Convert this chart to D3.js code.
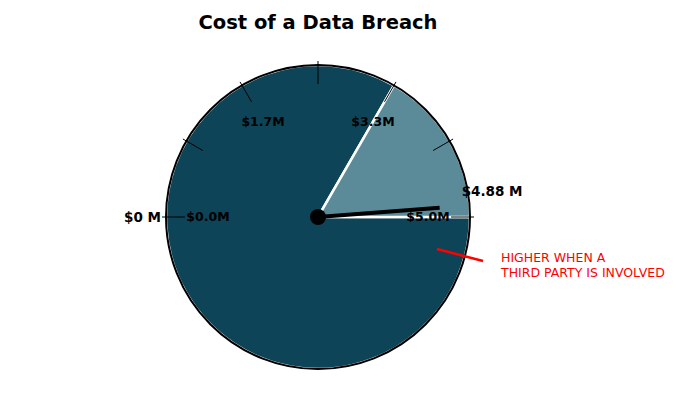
<!DOCTYPE html>
<html>
<head>
<meta charset="utf-8">
<script src="https://d3js.org/d3.v7.min.js"></script>
<style>
  body { margin: 0; background: #fff; }
  text { font-family: "DejaVu Sans", sans-serif; }
</style>
</head>
<body>
<script>
// Gauge data
const title = "Cost of a Data Breach";
const gaugeMin = 0;
const gaugeMax = 5;
const tickValues = [0, 0.8333, 1.6667, 2.5, 3.3333, 4.1667, 5];
const labelValues = [0, 1.6667, 3.3333, 5];
const sliceNames = ["base", "third party"];
const sliceValues = [5, 1];
const sliceColors = ["#0e4457", "#5b8b99"];
const needleValue = 4.88;
const noteLines = ["HIGHER WHEN A", "THIRD PARTY IS INVOLVED"];

const width = 700, height = 400;
const cx = 318, cy = 217, radius = 152;

const svg = d3.select("body").append("svg")
    .attr("width", width)
    .attr("height", height);

svg.append("text")
    .attr("x", cx)
    .attr("y", 29)
    .attr("text-anchor", "middle")
    .style("font-size", "19.5px")
    .style("font-weight", "bold")
    .text(title);

const g = svg.append("g").attr("transform", "translate(" + cx + "," + cy + ")");

// value -> angle in radians (math convention: 180deg at min, 0deg at max)
const angle = d3.scaleLinear().domain([gaugeMin, gaugeMax]).range([Math.PI, 0]);

// pie: light slice sits between 60deg and 0deg (d3 angles clockwise from top)
const pie = d3.pie().sort(null).value(d => d)
    .startAngle(Math.PI / 2)
    .endAngle(Math.PI / 2 + 2 * Math.PI);
const arc = d3.arc().innerRadius(0).outerRadius(radius);

g.selectAll(".slice")
    .data(pie(sliceValues))
    .join("path")
    .attr("class", "slice")
    .attr("d", arc)
    .attr("fill", (d, i) => sliceColors[i])
    .attr("stroke", "white")
    .attr("stroke-width", 2.5);

g.append("circle")
    .attr("r", radius)
    .attr("fill", "none")
    .attr("stroke", "black")
    .attr("stroke-width", 2);

// ticks
g.selectAll(".tick")
    .data(tickValues)
    .join("line")
    .attr("class", "tick")
    .attr("x1", d => Math.cos(angle(d)) * (radius - 19))
    .attr("y1", d => -Math.sin(angle(d)) * (radius - 19))
    .attr("x2", d => Math.cos(angle(d)) * (radius + 4))
    .attr("y2", d => -Math.sin(angle(d)) * (radius + 4))
    .attr("stroke", "black")
    .attr("stroke-width", 1);

const fmt = d => "$" + d3.format(".1f")(d) + "M";
g.selectAll(".tlabel")
    .data(labelValues)
    .join("text")
    .attr("class", "tlabel")
    .attr("x", d => Math.cos(angle(d)) * 110)
    .attr("y", d => -Math.sin(angle(d)) * 110)
    .attr("dy", "0.35em")
    .attr("text-anchor", "middle")
    .style("font-size", "12.5px")
    .style("font-weight", "bold")
    .text(fmt);

// needle
const needleLen = 122;
g.append("line")
    .attr("x1", 0).attr("y1", 0)
    .attr("x2", Math.cos(angle(needleValue)) * needleLen)
    .attr("y2", -Math.sin(angle(needleValue)) * needleLen)
    .attr("stroke", "black")
    .attr("stroke-width", 4);
g.append("circle").attr("r", 8).attr("fill", "black");

// min / value labels
g.append("text")
    .attr("x", -radius - 5)
    .attr("y", 0)
    .attr("dy", "0.35em")
    .attr("text-anchor", "end")
    .style("font-size", "13.5px")
    .style("font-weight", "bold")
    .text("$" + gaugeMin + " M");

g.append("text")
    .attr("x", Math.cos(angle(needleValue)) * needleLen + 22)
    .attr("y", -26)
    .attr("dy", "0.35em")
    .style("font-size", "13.5px")
    .style("font-weight", "bold")
    .text("$" + needleValue + " M");

// annotation
g.append("line")
    .attr("x1", 119).attr("y1", 32)
    .attr("x2", 165).attr("y2", 44)
    .attr("stroke", "red")
    .attr("stroke-width", 2.5);

g.append("text")
    .attr("x", 183)
    .attr("y", 45)
    .attr("fill", "red")
    .style("font-size", "12.5px")
    .selectAll("tspan")
    .data(noteLines)
    .join("tspan")
    .attr("x", 183)
    .attr("dy", (d, i) => i === 0 ? 0 : "1.2em")
    .text(d => d);
</script>
</body>
</html>
